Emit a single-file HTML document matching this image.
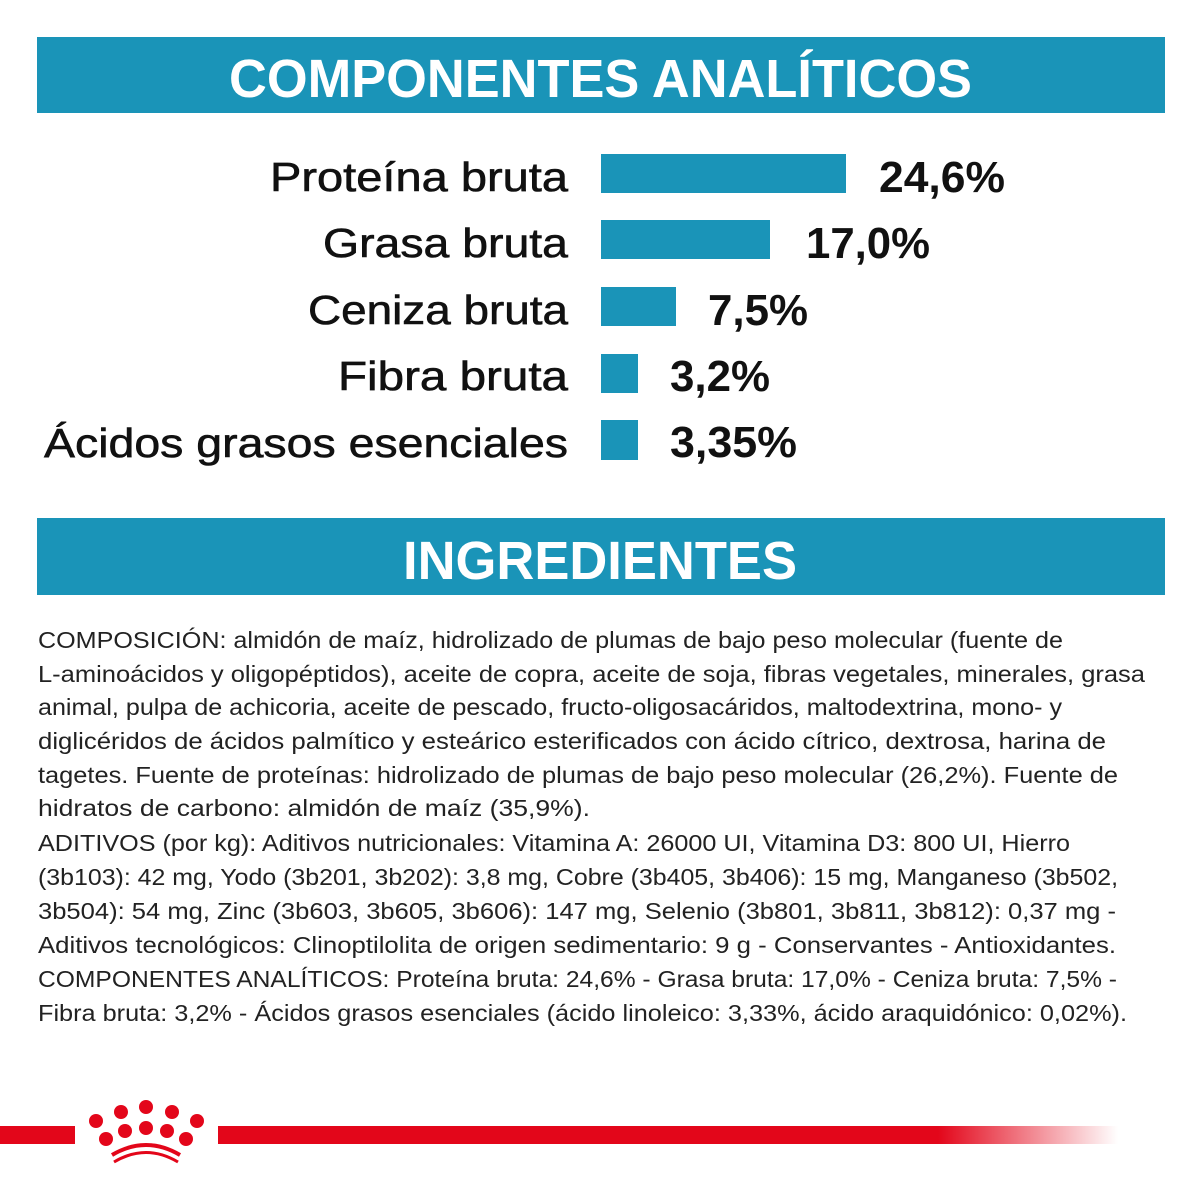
<!DOCTYPE html>
<html><head><meta charset="utf-8"><style>
html,body{margin:0;padding:0;background:#fff;}
svg{display:block;}
</style></head><body>
<svg width="1200" height="1200" viewBox="0 0 1200 1200" xmlns="http://www.w3.org/2000/svg">
<defs>
<linearGradient id="rg" x1="0" x2="1" y1="0" y2="0">
<stop offset="0" stop-color="#e3061a"/><stop offset="0.8" stop-color="#e3061a"/><stop offset="1" stop-color="#e3061a" stop-opacity="0"/>
</linearGradient>
</defs>
<rect x="37" y="37" width="1128" height="76" fill="#1a94b8"/>
<text x="229" y="97" font-family="Liberation Sans, sans-serif" font-weight="bold" font-size="54" fill="#fff" textLength="743" lengthAdjust="spacingAndGlyphs">COMPONENTES ANALÍTICOS</text>

<g font-family="Liberation Sans, sans-serif" font-size="41" fill="#111" stroke="#111" stroke-width="0.6">
<text x="270" y="191" textLength="298" lengthAdjust="spacingAndGlyphs">Proteína bruta</text>
<text x="323" y="257" textLength="245" lengthAdjust="spacingAndGlyphs">Grasa bruta</text>
<text x="308" y="324" textLength="260" lengthAdjust="spacingAndGlyphs">Ceniza bruta</text>
<text x="338" y="390" textLength="230" lengthAdjust="spacingAndGlyphs">Fibra bruta</text>
<text x="44" y="457" textLength="524" lengthAdjust="spacingAndGlyphs">Ácidos grasos esenciales</text>
</g>
<g fill="#1a94b8">
<rect x="601" y="154" width="245" height="39"/>
<rect x="601" y="220" width="169" height="39"/>
<rect x="601" y="287" width="75" height="39"/>
<rect x="601" y="354" width="37" height="39"/>
<rect x="601" y="420" width="37" height="40"/>
</g>
<g font-family="Liberation Sans, sans-serif" font-weight="bold" font-size="44" fill="#111">
<text x="879" y="192" textLength="126" lengthAdjust="spacingAndGlyphs">24,6%</text>
<text x="806" y="258" textLength="124" lengthAdjust="spacingAndGlyphs">17,0%</text>
<text x="708" y="325" textLength="100" lengthAdjust="spacingAndGlyphs">7,5%</text>
<text x="670" y="391" textLength="100" lengthAdjust="spacingAndGlyphs">3,2%</text>
<text x="670" y="457" textLength="127" lengthAdjust="spacingAndGlyphs">3,35%</text>
</g>

<rect x="37" y="518" width="1128" height="77" fill="#1a94b8"/>
<text x="403" y="579" font-family="Liberation Sans, sans-serif" font-weight="bold" font-size="54" fill="#fff" textLength="394" lengthAdjust="spacingAndGlyphs">INGREDIENTES</text>

<g font-family="Liberation Sans, sans-serif" font-size="23" fill="#222">
<text x="38" y="648" textLength="1025" lengthAdjust="spacingAndGlyphs">COMPOSICIÓN: almidón de maíz, hidrolizado de plumas de bajo peso molecular (fuente de</text>
<text x="38" y="682" textLength="1107" lengthAdjust="spacingAndGlyphs">L-aminoácidos y oligopéptidos), aceite de copra, aceite de soja, fibras vegetales, minerales, grasa</text>
<text x="38" y="715" textLength="1024" lengthAdjust="spacingAndGlyphs">animal, pulpa de achicoria, aceite de pescado, fructo-oligosacáridos, maltodextrina, mono- y</text>
<text x="38" y="749" textLength="1068" lengthAdjust="spacingAndGlyphs">diglicéridos de ácidos palmítico y esteárico esterificados con ácido cítrico, dextrosa, harina de</text>
<text x="38" y="783" textLength="1080" lengthAdjust="spacingAndGlyphs">tagetes. Fuente de proteínas: hidrolizado de plumas de bajo peso molecular (26,2%). Fuente de</text>
<text x="38" y="816" textLength="552" lengthAdjust="spacingAndGlyphs">hidratos de carbono: almidón de maíz (35,9%).</text>
<text x="38" y="851" textLength="1032" lengthAdjust="spacingAndGlyphs">ADITIVOS (por kg): Aditivos nutricionales: Vitamina A: 26000 UI, Vitamina D3: 800 UI, Hierro</text>
<text x="38" y="885" textLength="1080" lengthAdjust="spacingAndGlyphs">(3b103): 42 mg, Yodo (3b201, 3b202): 3,8 mg, Cobre (3b405, 3b406): 15 mg, Manganeso (3b502,</text>
<text x="38" y="919" textLength="1078" lengthAdjust="spacingAndGlyphs">3b504): 54 mg, Zinc (3b603, 3b605, 3b606): 147 mg, Selenio (3b801, 3b811, 3b812): 0,37 mg -</text>
<text x="38" y="953" textLength="1078" lengthAdjust="spacingAndGlyphs">Aditivos tecnológicos: Clinoptilolita de origen sedimentario: 9 g - Conservantes - Antioxidantes.</text>
<text x="38" y="987" textLength="1079" lengthAdjust="spacingAndGlyphs">COMPONENTES ANALÍTICOS: Proteína bruta: 24,6% - Grasa bruta: 17,0% - Ceniza bruta: 7,5% -</text>
<text x="38" y="1021" textLength="1089" lengthAdjust="spacingAndGlyphs">Fibra bruta: 3,2% - Ácidos grasos esenciales (ácido linoleico: 3,33%, ácido araquidónico: 0,02%).</text>
</g>

<rect x="0" y="1126" width="75" height="18" fill="#e3061a"/>
<rect x="218" y="1126" width="900" height="18" fill="url(#rg)"/>
<g fill="#e3061a">
<circle cx="96" cy="1121" r="7"/>
<circle cx="121" cy="1112" r="7"/>
<circle cx="146" cy="1107" r="7"/>
<circle cx="172" cy="1112" r="7"/>
<circle cx="197" cy="1121" r="7"/>
<circle cx="106" cy="1139" r="7"/>
<circle cx="125" cy="1131" r="7"/>
<circle cx="146" cy="1128" r="7"/>
<circle cx="167" cy="1131" r="7"/>
<circle cx="186" cy="1139" r="7"/>
</g>
<path d="M112 1155 Q146 1135 180 1155" stroke="#e3061a" stroke-width="4" fill="none"/>
<path d="M114 1162 Q146 1143 178 1162" stroke="#e3061a" stroke-width="3" fill="none"/>
</svg>
</body></html>
